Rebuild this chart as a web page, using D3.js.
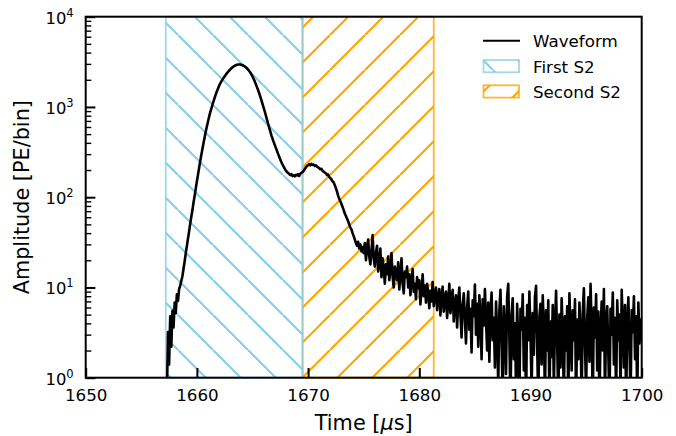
<!DOCTYPE html>
<html>
<head>
<meta charset="utf-8">
<script src="https://cdn.jsdelivr.net/npm/d3@7"></script>
<style>
  body { margin: 0; background: #fff; }
  svg { display: block; font-family: "DejaVu Sans", sans-serif; }
</style>
</head>
<body>
<svg width="676" height="436"></svg>
<script>
// waveform, one value per 0.1 us bin, starting at 1657.3 us
var binStart = 1657.3, binWidth = 0.1;
var amplitude = [
  0.6, 3.2, 1.4, 4.8, 2.2, 5.5, 3.6,
  6.8, 5.2, 8.4, 7.1, 9.6, 10.5, 11.8, 13.4, 16.2, 19.5,
  24, 29, 35, 42, 51, 61, 72, 88, 104, 125,
  150, 178, 212, 250, 295, 345, 400, 465, 535, 610,
  690, 780, 870, 960, 1060, 1160, 1270, 1380, 1490, 1600,
  1720, 1820, 1920, 2010, 2100, 2190, 2280, 2370, 2450, 2530,
  2610, 2680, 2750, 2810, 2860, 2900, 2930, 2950, 2960, 2950,
  2930, 2900, 2860, 2810, 2750, 2680, 2600, 2510, 2410, 2300,
  2180, 2050, 1920, 1790, 1660, 1540, 1420, 1300, 1190, 1080,
  985, 890, 805, 725, 655, 590, 535, 485, 445, 410,
  380, 352, 326, 302, 280, 262, 244, 230, 218, 207,
  198, 190, 186, 181, 176, 180, 172, 175, 170, 177,
  174, 180, 172, 183, 186, 190, 196, 205, 214, 222,
  226, 232, 225, 234, 228, 230, 222, 226, 218, 214,
  210, 204, 206, 196, 192, 188, 184, 176, 178, 168,
  162, 158, 150, 146, 136, 126, 115, 104, 96, 90,
  84, 78, 72, 66, 62, 58, 54, 50, 46, 44,
  40, 37, 34, 31, 29, 32, 27, 30, 25, 28,
  24, 31, 20, 27, 34, 22, 18, 26, 38, 21,
  17, 24, 29, 15, 19, 27, 13, 21, 16, 11,
  18, 14, 22, 12, 16, 24, 13, 10, 17, 15,
  12, 19, 9.5, 14, 21, 11, 8.6, 15, 13, 17,
  10, 14, 8.2, 12, 16, 9, 11, 7.4, 13, 9.8,
  12, 6.5, 9.4, 14, 8, 10.5, 6.8, 11, 8.8, 5.9,
  9.2, 7, 11.5, 6.2, 8.4, 10, 5.6, 7.8, 9.6, 4.9,
  8, 10.2, 5.4, 7.4, 9, 4.6, 6.8, 11, 5.2, 7.6,
  9.4, 4.2, 6.5, 8.2, 3.6, 7, 10, 5, 2.8, 6.4,
  8.6, 4.4, 2.4, 6, 9, 3.4, 5.8, 1.9, 7.2, 4.8,
  10.8, 3, 6.6, 2.2, 8.2, 5, 1.6, 7.4, 3.8, 9.6,
  4.2, 2, 6.8, 1.5, 5.4, 8.8, 2.6, 4.6, 1.3, 7,
  3.2, 0.8, 5.6, 9.4, 2.4, 0.6, 6.2, 3.6, 1.1, 8,
  11, 2.8, 0.5, 5, 7.6, 1.6, 4, 0.7, 6.6, 2.2,
  0.6, 5.8, 3.4, 8.4, 1.2, 4.6, 0.5, 6.4, 2.6, 9,
  3, 0.7, 5.2, 1.8, 7.8, 10.4, 2.2, 0.5, 4.8, 6.6,
  1.4, 8.2, 3.6, 0.6, 5.6, 2, 7.2, 0.5, 4.2, 1.7,
  6.4, 0.8, 3.8, 9.2, 2.4, 0.5, 5, 1.3, 7.6, 3.2,
  0.6, 4.8, 2, 6.2, 0.5, 8.6, 3.4, 1.2, 5.6, 2.6,
  7.4, 0.5, 4.4, 1.6, 6.8, 3, 0.6, 5.2, 9.8, 2.2,
  0.7, 4.6, 7.8, 1.5, 11, 3.6, 0.5, 6, 2.8, 8.4,
  1.2, 5.4, 0.5, 3.2, 7, 2, 9.6, 0.6, 4.4, 6.2,
  1.8, 0.5, 5.8, 3, 8.8, 1.4, 4.6, 0.6, 7.2, 2.6,
  5, 0.7, 9.4, 3.8, 1.3, 6.4, 0.5, 4, 7.8, 2.2,
  0.6, 5.6, 3.2, 8, 1.6, 4.8, 0.5, 6.8, 2.4, 4.4,
  3.6
];

// shaded S2 windows
var regionNames = ["First S2", "Second S2"];
var regionStart = [1657.2, 1669.5];
var regionEnd = [1669.5, 1681.3];
var regionColors = ["#87ceeb", "#ffa500"];

var xTicks = [1650, 1660, 1670, 1680, 1690, 1700];
var yTicks = [1, 10, 100, 1000, 10000];
var yExponents = ["0", "1", "2", "3", "4"];

var plotLeft = 85.7, plotRight = 641.7, plotTop = 16.7, plotBottom = 377.7;

var svg = d3.select("svg");

var x = d3.scaleLinear().domain([1650, 1700]).range([plotLeft, plotRight]);
var y = d3.scaleLog().domain([1, 10000]).range([plotBottom, plotTop]);

// hatch patterns, tiled from the page origin like matplotlib does
var defs = svg.append("defs");
var back = defs.append("pattern").attr("id", "hatch0")
  .attr("patternUnits", "userSpaceOnUse")
  .attr("width", 35).attr("height", 35);
[-35, 0, 35].forEach(function (k) {
  back.append("line")
    .attr("x1", 3 + k).attr("y1", 0).attr("x2", 38 + k).attr("y2", 35)
    .attr("stroke", regionColors[0]).attr("stroke-width", 2.2);
});
var fwd = defs.append("pattern").attr("id", "hatch1")
  .attr("patternUnits", "userSpaceOnUse")
  .attr("width", 35).attr("height", 35);
[-35, 0, 35].forEach(function (k) {
  fwd.append("line")
    .attr("x1", 15 + k).attr("y1", 0).attr("x2", -20 + k).attr("y2", 35)
    .attr("stroke", regionColors[1]).attr("stroke-width", 2.2);
});

defs.append("clipPath").attr("id", "plotclip")
  .append("rect")
  .attr("x", plotLeft).attr("y", plotTop)
  .attr("width", plotRight - plotLeft).attr("height", plotBottom - plotTop);

// second window first so the first window's edge sits on top at the divider
[1, 0].forEach(function (i) {
  svg.append("rect")
    .attr("x", x(regionStart[i]))
    .attr("y", plotTop)
    .attr("width", x(regionEnd[i]) - x(regionStart[i]))
    .attr("height", plotBottom - plotTop)
    .attr("fill", "url(#hatch" + i + ")")
    .attr("stroke", regionColors[i])
    .attr("stroke-opacity", 0.8)
    .attr("stroke-width", 1.8);
});

var line = d3.line()
  .x(function (d, i) { return x(binStart + i * binWidth); })
  .y(function (d) { return y(d); });

svg.append("path")
  .datum(amplitude)
  .attr("clip-path", "url(#plotclip)")
  .attr("d", line)
  .attr("fill", "none")
  .attr("stroke", "#000")
  .attr("stroke-width", 2.6)
  .attr("stroke-linejoin", "round");

// axes, ticks pointing inward
var xAxis = d3.axisBottom(x)
  .tickValues(xTicks)
  .tickSizeInner(-9.7)
  .tickSizeOuter(0)
  .tickPadding(11)
  .tickFormat(d3.format("d"));

var gx = svg.append("g")
  .attr("transform", "translate(0," + plotBottom + ")")
  .call(xAxis);
gx.attr("font-size", null).attr("font-family", null);
gx.select(".domain").remove();
gx.selectAll(".tick line").attr("stroke-width", 2);
gx.selectAll(".tick text")
  .attr("font-size", 16.7)
  .attr("fill", "#000");

var minorTicks = [];
[1, 10, 100, 1000].forEach(function (b) {
  [2, 3, 4, 5, 6, 7, 8, 9].forEach(function (m) { minorTicks.push(b * m); });
});

var gyMinor = svg.append("g")
  .attr("transform", "translate(" + plotLeft + ",0)")
  .call(d3.axisLeft(y).tickValues(minorTicks).tickSizeInner(-5.6).tickSizeOuter(0).tickFormat(""));
gyMinor.select(".domain").remove();
gyMinor.selectAll(".tick line").attr("stroke-width", 1.4);

var gy = svg.append("g")
  .attr("transform", "translate(" + plotLeft + ",0)")
  .call(d3.axisLeft(y).tickValues(yTicks).tickSizeInner(-9.7).tickSizeOuter(0).tickPadding(12).tickFormat(""));
gy.attr("font-size", null).attr("font-family", null);
gy.select(".domain").remove();
gy.selectAll(".tick line").attr("stroke-width", 2);
gy.selectAll(".tick text").each(function (d, i) {
  var t = d3.select(this)
    .attr("fill", "#000")
    .attr("dy", null)
    .attr("y", 6.5);
  t.append("tspan").attr("font-size", 16.4).text("10");
  t.append("tspan").attr("font-size", 11.5).attr("dy", -7).text(yExponents[i]);
});

// spines
svg.append("rect")
  .attr("x", plotLeft).attr("y", plotTop)
  .attr("width", plotRight - plotLeft).attr("height", plotBottom - plotTop)
  .attr("fill", "none")
  .attr("stroke", "#000")
  .attr("stroke-width", 2);

// axis labels
var xLabel = svg.append("text")
  .attr("x", (plotLeft + plotRight) / 2)
  .attr("y", 430)
  .attr("text-anchor", "middle")
  .attr("font-size", 20.8);
xLabel.append("tspan").text("Time [");
xLabel.append("tspan").attr("font-style", "italic").text("\u03bc");
xLabel.append("tspan").text("s]");

svg.append("text")
  .attr("transform", "translate(28.5," + (plotTop + plotBottom) / 2 + ") rotate(-90)")
  .attr("text-anchor", "middle")
  .attr("font-size", 20.8)
  .text("Amplitude [PE/bin]");

// legend
var legend = svg.append("g");
legend.append("line")
  .attr("x1", 483).attr("x2", 520)
  .attr("y1", 40.7).attr("y2", 40.7)
  .attr("stroke", "#000").attr("stroke-width", 2);
legend.append("text")
  .attr("x", 533).attr("y", 46.7)
  .attr("font-size", 16.7)
  .text("Waveform");

regionNames.forEach(function (name, i) {
  var ly = 60 + i * 25.3;
  legend.append("rect")
    .attr("x", 483.5).attr("y", ly)
    .attr("width", 35.5).attr("height", 12.3)
    .attr("fill", "url(#hatch" + i + ")")
    .attr("stroke", regionColors[i])
    .attr("stroke-opacity", 0.8)
    .attr("stroke-width", 1.8);
  legend.append("text")
    .attr("x", 533).attr("y", ly + 12.5)
    .attr("font-size", 16.7)
    .text(name);
});
</script>
</body>
</html>
